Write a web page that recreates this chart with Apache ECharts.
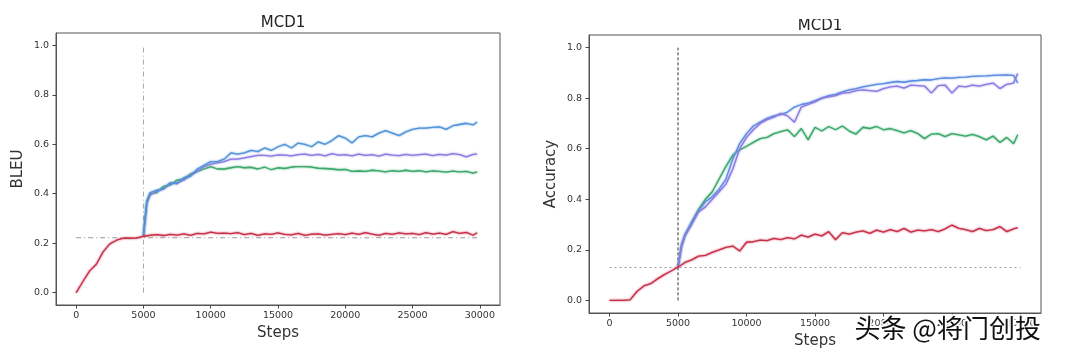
<!DOCTYPE html>
<html><head><meta charset="utf-8">
<script src="https://cdn.jsdelivr.net/npm/echarts@6/dist/echarts.min.js"></script>
<style>html,body{margin:0;padding:0;background:#fff}#c{width:1068px;height:356px}</style>
</head><body><div id="c"></div>
<script>
// ---- data ----
const chartTitles = ['MCD1', 'MCD1'];
const yNames = ['BLEU', 'Accuracy'];
const xName = 'Steps';
const xTicks = [0, 5000, 10000, 15000, 20000, 25000, 30000];
const yTicks = [0, 0.2, 0.4, 0.6, 0.8, 1.0];
const switchStep = 5000;
const refLineEnd = 30000;
const leftBaseline = 0.222;
const rightBaseline = 0.13;
const watermark = '头条 @将门创投';

const stepsEarly = [0, 500, 1000, 1500, 2000, 2500, 3000, 3500, 4000, 4500];
const stepsLate = [5000, 5250, 5500, 6000, 6500, 7000, 7500, 8000, 8500, 9000,
  9500, 10000, 10500, 11000, 11500, 12000, 12500, 13000, 13500, 14000,
  14500, 15000, 15500, 16000, 16500, 17000, 17500, 18000, 18500, 19000,
  19500, 20000, 20500, 21000, 21500, 22000, 22500, 23000, 23500, 24000,
  24500, 25000, 25500, 26000, 26500, 27000, 27500, 28000, 28500, 29000,
  29500, 29800];

// left chart (BLEU)
const bleuRedEarly = [0, 0.045, 0.088, 0.115, 0.165, 0.197, 0.212, 0.22, 0.22, 0.221];
const bleuRedLate = [0.228, 0.23, 0.232, 0.235, 0.231, 0.236, 0.233, 0.238, 0.232, 0.24,
  0.238, 0.245, 0.24, 0.241, 0.239, 0.243, 0.235, 0.24, 0.232, 0.238,
  0.236, 0.242, 0.236, 0.234, 0.24, 0.232, 0.237, 0.238, 0.233, 0.236,
  0.239, 0.235, 0.241, 0.236, 0.243, 0.237, 0.232, 0.24, 0.236, 0.242,
  0.238, 0.24, 0.235, 0.243, 0.237, 0.241, 0.236, 0.247, 0.24, 0.244,
  0.232, 0.242];
const bleuBlue = [0.23, 0.37, 0.405, 0.415, 0.42, 0.445, 0.44, 0.465, 0.47, 0.5,
  0.515, 0.53, 0.53, 0.54, 0.565, 0.56, 0.565, 0.575, 0.57, 0.585,
  0.575, 0.59, 0.6, 0.585, 0.605, 0.6, 0.59, 0.61, 0.6, 0.615,
  0.635, 0.625, 0.605, 0.63, 0.635, 0.63, 0.645, 0.655, 0.645, 0.635,
  0.65, 0.66, 0.665, 0.665, 0.668, 0.67, 0.66, 0.675, 0.68, 0.685,
  0.678, 0.69];
const bleuPurple = [0.23, 0.36, 0.395, 0.41, 0.42, 0.44, 0.445, 0.455, 0.475, 0.49,
  0.51, 0.52, 0.525, 0.53, 0.54, 0.54, 0.545, 0.55, 0.555, 0.555,
  0.552, 0.557, 0.556, 0.553, 0.558, 0.56, 0.555, 0.559, 0.553, 0.562,
  0.556, 0.558, 0.553, 0.56, 0.555, 0.558, 0.552, 0.56, 0.556, 0.554,
  0.559, 0.555, 0.558, 0.56, 0.554, 0.559, 0.556, 0.562, 0.558, 0.549,
  0.559, 0.56];
const bleuGreen = [0.23, 0.37, 0.4, 0.405, 0.43, 0.435, 0.455, 0.46, 0.48, 0.49,
  0.5, 0.51, 0.5, 0.5, 0.505, 0.51, 0.505, 0.507, 0.5, 0.508,
  0.497, 0.505, 0.502, 0.508, 0.51, 0.51, 0.508, 0.503, 0.502, 0.5,
  0.497, 0.498, 0.49, 0.492, 0.49, 0.495, 0.492, 0.488, 0.493, 0.49,
  0.495, 0.49, 0.493, 0.488, 0.492, 0.49, 0.487, 0.491, 0.488, 0.49,
  0.483, 0.488];

// right chart (Accuracy)
const accRedEarly = [0, 0, 0, 0.002, 0.035, 0.057, 0.066, 0.085, 0.102, 0.116];
const accRedLate = [0.132, 0.14, 0.15, 0.16, 0.175, 0.178, 0.19, 0.2, 0.21, 0.215,
  0.195, 0.23, 0.232, 0.238, 0.236, 0.245, 0.24, 0.248, 0.243, 0.258,
  0.25, 0.262, 0.255, 0.272, 0.24, 0.268, 0.262, 0.27, 0.275, 0.265,
  0.278, 0.27, 0.28, 0.272, 0.285, 0.27, 0.278, 0.275, 0.28, 0.272,
  0.283, 0.298, 0.285, 0.28, 0.272, 0.285, 0.276, 0.28, 0.292, 0.272,
  0.283, 0.288];
const accBlue = [0.132, 0.22, 0.26, 0.31, 0.355, 0.39, 0.41, 0.44, 0.48, 0.56,
  0.62, 0.66, 0.69, 0.705, 0.72, 0.73, 0.735, 0.745, 0.765, 0.775,
  0.78, 0.79, 0.8, 0.81, 0.815, 0.825, 0.833, 0.838, 0.845, 0.85,
  0.855, 0.858, 0.862, 0.866, 0.863, 0.868, 0.87, 0.873, 0.872, 0.877,
  0.88, 0.879, 0.882, 0.883, 0.886, 0.887, 0.888, 0.89, 0.891, 0.892,
  0.89, 0.86];
const accPurple = [0.132, 0.21, 0.255, 0.3, 0.35, 0.37, 0.4, 0.43, 0.46, 0.52,
  0.6, 0.645, 0.675, 0.7, 0.715, 0.725, 0.74, 0.73, 0.705, 0.765,
  0.775, 0.785, 0.8, 0.805, 0.81, 0.82, 0.822, 0.83, 0.833, 0.83,
  0.827, 0.838, 0.845, 0.848, 0.84, 0.852, 0.85, 0.848, 0.82, 0.85,
  0.852, 0.82, 0.848, 0.845, 0.852, 0.848, 0.855, 0.86, 0.838, 0.855,
  0.86, 0.898];
const accGreen = [0.132, 0.215, 0.255, 0.31, 0.36, 0.4, 0.43, 0.48, 0.53, 0.575,
  0.595, 0.61, 0.625, 0.64, 0.645, 0.66, 0.668, 0.675, 0.648, 0.68,
  0.635, 0.685, 0.67, 0.688, 0.675, 0.69, 0.67, 0.658, 0.685, 0.68,
  0.688, 0.675, 0.68, 0.672, 0.663, 0.672, 0.66, 0.64, 0.658, 0.66,
  0.648, 0.66, 0.655, 0.65, 0.657, 0.648, 0.635, 0.65, 0.625, 0.645,
  0.62, 0.655];

// ---- build ----
const FONT = 'DejaVu Sans';
const C = { red: '#c8304a', blue: '#4f93d8', purple: '#8b7be3', green: '#3aa86a' };
const pairs = (xs, ys) => xs.map((x, i) => [x, ys[i]]);

function xAxis(gi) {
  return {
    type: 'value', gridIndex: gi, min: -1500, max: 31500,
    axisLine: { show: true, onZero: false, lineStyle: { color: '#555', width: 1 } },
    splitLine: { show: false },
    axisTick: { show: true, length: 3.5, customValues: xTicks, lineStyle: { color: '#444' } },
    axisLabel: { customValues: xTicks, fontSize: 9.5, color: '#333', margin: 6, fontFamily: FONT,
      formatter: v => String(v) },
    name: xName, nameLocation: 'middle', nameGap: 20,
    nameTextStyle: { fontSize: 15, color: '#333', fontFamily: FONT }
  };
}
function yAxis(gi, nm) {
  return {
    type: 'value', gridIndex: gi, min: -0.05, max: 1.05,
    axisLine: { show: true, onZero: false, lineStyle: { color: '#555', width: 1 } },
    splitLine: { show: false },
    axisTick: { show: true, length: 3.5, customValues: yTicks, lineStyle: { color: '#444' } },
    axisLabel: { customValues: yTicks, fontSize: 9.5, color: '#333', margin: 7, fontFamily: FONT,
      formatter: v => v.toFixed(1) },
    name: nm, nameLocation: 'middle', nameGap: 30,
    nameTextStyle: { fontSize: 15, color: '#333', fontFamily: FONT }
  };
}
function line(gi, data, color, w) {
  return {
    type: 'line', xAxisIndex: gi, yAxisIndex: gi, data, symbol: 'none', silent: true,
    lineStyle: { color, width: w || 1.3, shadowBlur: 2, shadowColor: color }
  };
}
function ref(gi, data, color, type, w) {
  return {
    type: 'line', xAxisIndex: gi, yAxisIndex: gi, data, symbol: 'none', silent: true,
    lineStyle: { color, width: w || 1, type }
  };
}

const option = {
  backgroundColor: '#fff',
  animation: false,
  title: [
    { text: chartTitles[0], left: 278, top: 11, textAlign: 'center',
      textStyle: { fontSize: 15, fontWeight: 'normal', color: '#222', fontFamily: FONT } },
    { text: chartTitles[1], left: 815, top: 14, textAlign: 'center',
      textStyle: { fontSize: 15, fontWeight: 'normal', color: '#222', fontFamily: FONT } }
  ],
  grid: [
    { left: 56, top: 33, width: 444, height: 272, show: true, borderColor: '#555', borderWidth: 1 },
    { left: 589, top: 35, width: 452, height: 278, show: true, borderColor: '#555', borderWidth: 1 }
  ],
  xAxis: [xAxis(0), xAxis(1)],
  yAxis: [yAxis(0, yNames[0]), yAxis(1, yNames[1])],
  series: [
    ref(0, [[switchStep, 0], [switchStep, 1]], '#aaa', [5, 3, 1, 3], 1),
    ref(0, [[0, leftBaseline], [refLineEnd, leftBaseline]], '#999', [5, 3, 1, 3], 1),
    line(0, pairs(stepsLate, bleuGreen), C.green),
    line(0, pairs(stepsLate, bleuPurple), C.purple),
    line(0, pairs(stepsLate, bleuBlue), C.blue),
    line(0, pairs(stepsEarly.concat(stepsLate), bleuRedEarly.concat(bleuRedLate)), C.red),

    ref(1, [[switchStep, 0], [switchStep, 1]], '#333', [3, 2], 1),
    ref(1, [[0, rightBaseline], [refLineEnd, rightBaseline]], '#999', [2, 3], 1),
    line(1, pairs(stepsLate, accGreen), C.green),
    line(1, pairs(stepsLate, accBlue), '#5c8de0'),
    line(1, pairs(stepsLate, accPurple), C.purple),
    line(1, pairs(stepsEarly.concat(stepsLate), accRedEarly.concat(accRedLate)), C.red)
  ],
  graphic: [
    { type: 'rect', z: 100, shape: { x: 534, y: 0, width: 534, height: 19 }, style: { fill: '#fff' } },
    { type: 'text', z: 101, left: 853, top: 314,
      style: { text: watermark, font: '26px "Noto Sans CJK SC"', fill: '#111', stroke: '#fff', lineWidth: 3 } }
  ]
};
echarts.init(document.getElementById('c')).setOption(option);
</script></body></html>
